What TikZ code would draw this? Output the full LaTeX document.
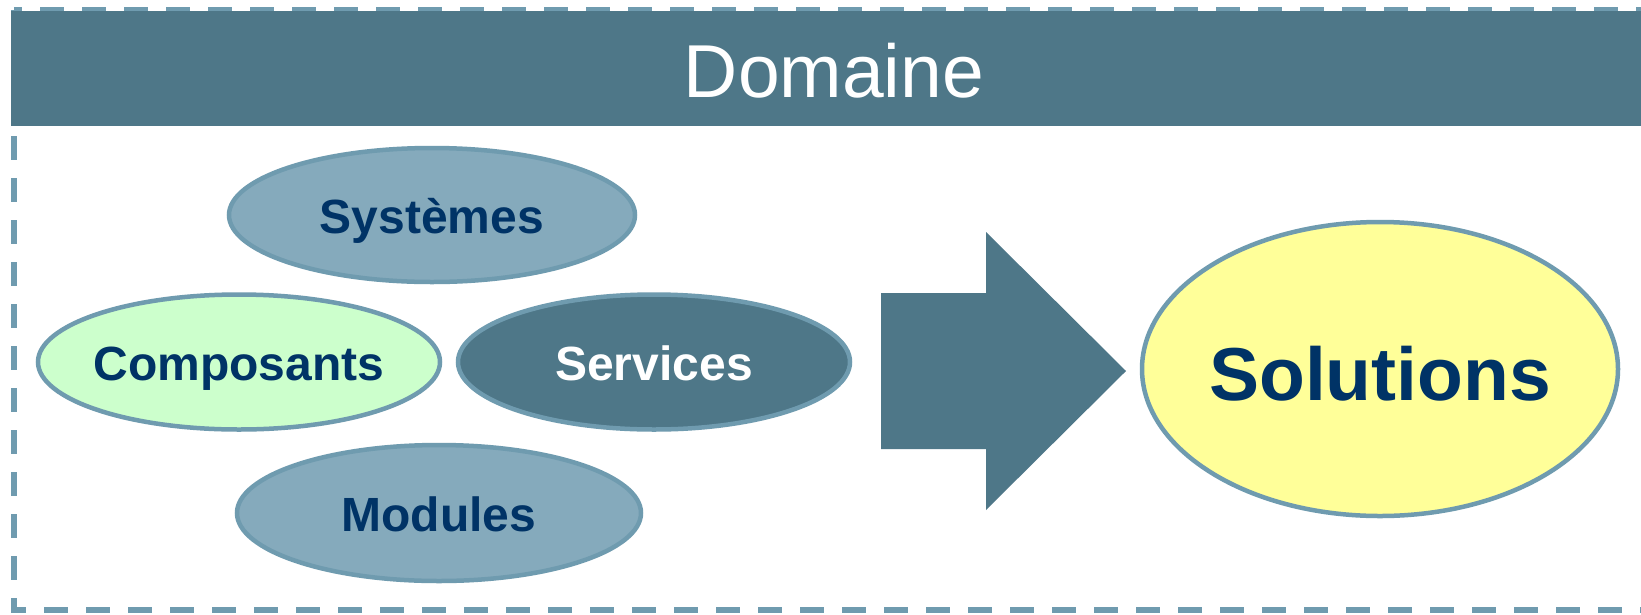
\documentclass[tikz,border=0pt]{standalone}
\usepackage{fontspec}
\setmainfont{Liberation Sans}
\usetikzlibrary{shapes.geometric}
\definecolor{hdr}{HTML}{4E7788}
\definecolor{edge}{HTML}{6F9BAF}
\definecolor{lblue}{HTML}{85AABC}
\definecolor{lgreen}{HTML}{CCFFCC}
\definecolor{lyellow}{HTML}{FFFF99}
\definecolor{navy}{HTML}{003366}
\tikzset{
  oval/.style={ellipse, draw=edge, line width=4.5pt, inner xsep=-20pt, inner ysep=0pt,
    text height=36pt, text depth=0pt,
    font=\fontsize{48}{52}\selectfont\bfseries, text=navy},
}
\begin{document}
\begin{tikzpicture}[x=1pt,y=-1pt]
\useasboundingbox (0,0) rectangle (1641,614);
\fill[white] (0,0) rectangle (1641,614);
% dashed frame
\draw[edge, line width=6pt, dash pattern=on 24pt off 18pt] (14,10) rectangle (1644,610);
% header
\fill[hdr] (11,11) rectangle (1641,126);
\node[text=white, font=\fontsize{75}{85}\selectfont] (dom) at (834,71) {Domaine};
% ellipses
\node[oval, fill=lblue, minimum width=406pt, minimum height=134pt] (sys) at (432,215) {Systèmes};
\node[oval, fill=lgreen, minimum width=402pt, minimum height=135pt] (comp) at (239,362) {Composants};
\node[oval, fill=hdr, text=white, minimum width=392pt, minimum height=135pt] (serv) at (654,362) {Services};
\node[oval, fill=lblue, minimum width=404pt, minimum height=136pt] (mod) at (439,513) {Modules};
\node[oval, fill=lyellow, minimum width=476pt, minimum height=294pt, text height=62pt, font=\fontsize{75}{82}\selectfont\bfseries] (sol) at (1380,369) {Solutions};
% big arrow
\fill[hdr] (881,293) -- (986,293) -- (986,232) -- (1126,371) -- (986,510) -- (986,449) -- (881,449) -- cycle;
\end{tikzpicture}
\end{document}
